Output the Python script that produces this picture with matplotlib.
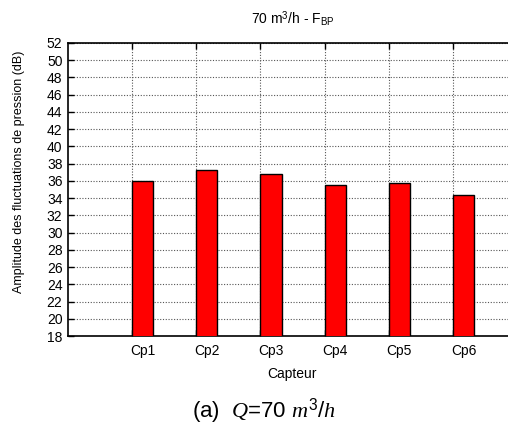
import matplotlib
matplotlib.use("Agg")
import matplotlib.pyplot as plt
import numpy as np

plt.rcParams['font.family'] = ['Liberation Sans', 'DejaVu Sans']
plt.rcParams['mathtext.fontset'] = 'custom'
plt.rcParams['mathtext.rm'] = 'Liberation Sans'
plt.rcParams['mathtext.it'] = 'Liberation Serif:italic'
plt.rcParams['mathtext.bf'] = 'Liberation Sans:bold'

categories = ["Cp1", "Cp2", "Cp3", "Cp4", "Cp5", "Cp6"]
values = [36.03, 37.27, 36.84, 35.53, 35.72, 34.40]
yticks = list(range(18, 53, 2))

W, H = 508, 426
fig = plt.figure(figsize=(W / 100, H / 100), dpi=100)
left, right, top, bottom = 68, 517, 43, 336
ax = fig.add_axes([left / W, 1 - bottom / H, (right - left) / W, (bottom - top) / H])

pos = np.arange(1, len(categories) + 1)
bw = 0.33
ax.bar(pos, values, width=bw, align='edge', bottom=0, color='#ff0000',
       edgecolor='black', linewidth=1.0, zorder=3)

ax.set_xlim(0, 7)
ax.set_ylim(18, 52)
ax.set_yticks(yticks)
ax.set_xticks(pos)
ax.set_xticklabels([])
ax.set_xticks(pos + bw / 2, minor=True)
ax.set_xticklabels(categories, minor=True)
ax.tick_params(axis='x', which='minor', length=0, pad=6, labelsize=10)
ax.tick_params(axis='x', which='major', direction='in', length=4, top=True,
               bottom=True, width=1)
ax.tick_params(axis='y', direction='in', length=4, labelsize=10, pad=4, width=1)

ax.grid(True, which='major', axis='both', linestyle=(0, (1, 1.5)),
        color='#555555', linewidth=0.8, zorder=1)
ax.set_axisbelow(True)
for s in ax.spines.values():
    s.set_linewidth(1.2)
ax.spines['right'].set_visible(False)

ax.set_ylabel("Amplitude des fluctuations de pression (dB)", fontsize=9)
ax.yaxis.set_label_coords((25 - left) / (right - left), 1 - (171.5 - top) / (bottom - top))
ax.set_xlabel("Capteur", fontsize=10, labelpad=6)
ax.set_title(r"70 m$^3$/h - F$_{\mathrm{BP}}$", fontsize=10, pad=14)

fig.text(264 / W, 1 - 417 / H, r"(a)  $Q$=70 $m^3/h$", fontsize=16,
         ha='center', va='baseline')

fig.savefig("out.png", dpi=100)
